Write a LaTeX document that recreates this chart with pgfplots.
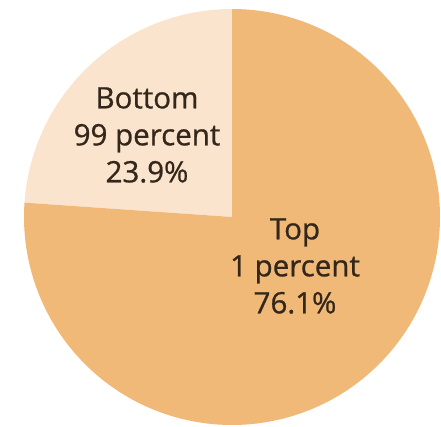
\documentclass[border=0pt]{standalone}
\usepackage{pgfplots}
\usepackage{pgfplotstable}
\pgfplotsset{compat=1.18}
\usepackage{fontspec}
\setmainfont{Open Sans}
\newfontfamily\labelfont[FakeBold=0.8]{Open Sans}
\definecolor{topc}{HTML}{F0B978}
\definecolor{botc}{HTML}{FBE4CD}
\definecolor{txt}{HTML}{33261A}
\pgfplotstableread{
label value
bottom 23.9
top 76.1
}\piedata
\begin{document}
\begin{tikzpicture}
\pgfplotstablegetelem{0}{value}\of\piedata
\pgfmathsetmacro{\bval}{\pgfplotsretval}
\pgfmathsetmacro{\aStart}{90}
\pgfmathsetmacro{\aMid}{90+3.6*\bval}
\pgfmathsetmacro{\aEnd}{450}
\begin{axis}[
  hide axis,
  scale only axis, width=441bp, height=427bp,
  xmin=0, xmax=441, ymin=0, ymax=427, clip=false,
]
\addplot[draw=none, mark=none] coordinates {(0,0) (441,427)};
\addplot[fill=botc, draw=none, domain=\aStart:\aMid, samples=120, variable=\t]
  ({232+208*cos(t)},{210+208*sin(t)}) -- (axis cs:232,210) -- cycle;
\addplot[fill=topc, draw=none, domain=\aMid:\aEnd, samples=360, variable=\t]
  ({232+208*cos(t)},{210+208*sin(t)}) -- (axis cs:232,210) -- cycle;
\node[align=center, text=txt, font=\labelfont\fontsize{29.5bp}{37bp}\selectfont] at (axis cs:147,292) {Bottom\\99 percent\\23.9\%};
\node[align=center, text=txt, font=\labelfont\fontsize{29.5bp}{37bp}\selectfont] at (axis cs:295,161) {Top\\1 percent\\76.1\%};
\end{axis}
\end{tikzpicture}
\end{document}
